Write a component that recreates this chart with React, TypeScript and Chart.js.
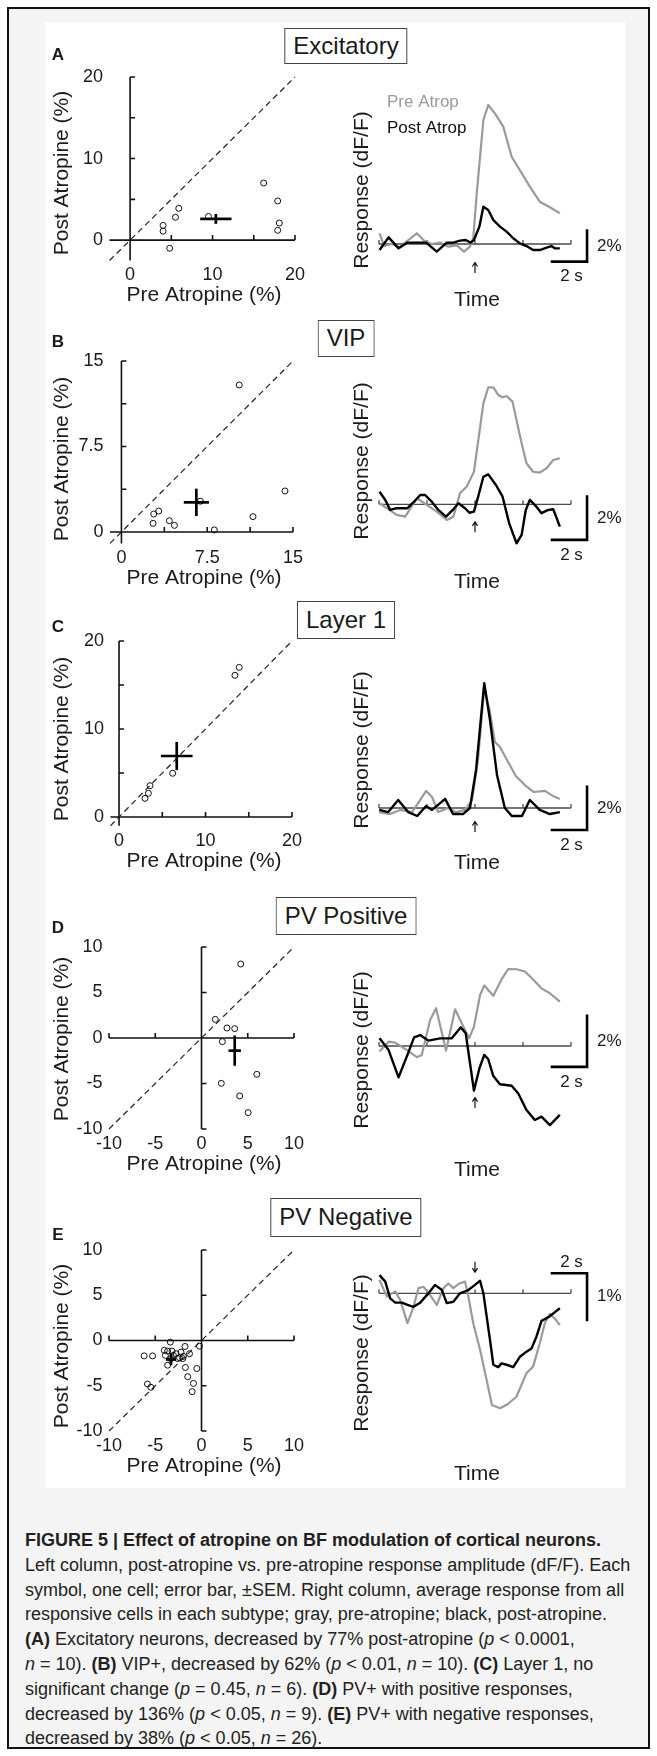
import React, { useEffect, useRef } from 'react';
import { Chart, registerables } from 'chart.js';
Chart.register(...registerables);

const FONT = '"Liberation Sans", Arial, Helvetica, sans-serif';

// ---------------- Scatter data (Pre vs Post atropine, %) ----------------
const A_PRE = [4.0, 4.0, 4.8, 5.5, 5.9, 9.5, 16.2, 17.9, 18.1, 17.9];
const A_POST = [1.8, 1.1, -1.0, 2.8, 3.9, 2.9, 7.0, 4.8, 2.1, 1.2];
const A_MEAN = [10.4, 2.6];
const A_SEM = [1.9, 0.6];

const B_PRE = [2.77, 2.82, 3.26, 4.19, 4.63, 6.9, 8.12, 10.3, 11.5, 14.3];
const B_POST = [0.76, 1.58, 1.84, 0.99, 0.58, 2.7, 0.18, 12.9, 1.35, 3.6];
const B_MEAN = [6.55, 2.6];
const B_SEM = [1.1, 1.2];

const C_PRE = [13.4, 13.9, 6.2, 3.58, 3.39, 3.0];
const C_POST = [16.1, 17.0, 4.97, 3.56, 2.69, 2.12];
const C_MEAN = [6.67, 6.93];
const C_SEM = [1.83, 1.6];

const D_PRE = [4.24, 1.49, 2.75, 3.59, 2.25, 5.98, 2.14, 4.13, 5.04];
const D_POST = [8.13, 2.05, 1.1, 1.03, -0.4, -3.99, -4.98, -6.37, -8.2];
const D_MEAN = [3.59, -1.39];
const D_SEM = [0.67, 1.66];

const E_PRE = [-3.37, -6.2, -5.29, -4.02, -3.66, -3.19, -2.75, -2.39, -1.96, -1.78, -1.3, -0.22, -3.66, -3.3, -1.74, -0.51, -1.49, -0.87, -1.01, -5.84, -5.47, -3.04, -2.57, -2.21, -3.91, -2.03];
const E_POST = [-0.18, -1.7, -1.7, -1.09, -1.17, -1.17, -1.46, -1.89, -1.75, -0.66, -1.46, -0.62, -2.73, -2.0, -2.98, -3.1, -4.0, -4.74, -5.65, -4.81, -5.17, -1.64, -2.0, -1.28, -1.64, -2.0];
const E_MEAN = [-3.3, -2.1];
const E_SEM = [0.55, 0.64];

// axis ticks / labels
const A_TICKS = [5, 10, 15, 20];
const A_LABEL_VALUES = [0, 10, 20];
const A_LABELS = ['0', '10', '20'];
const B_TICKS = [3.75, 7.5, 11.25, 15];
const B_LABEL_VALUES = [0, 7.5, 15];
const B_LABELS = ['0', '7.5', '15'];
const D_TICKS = [-10, -5, 5, 10];
const D_LABEL_VALUES = [-10, -5, 0, 5, 10];
const D_LABELS = ['-10', '-5', '0', '5', '10'];

// ---------------- Trace data (time s, dF/F %) ----------------
const T_RANGE = [-5.5, 5.5];
const BASE_TICKS = [-5.5, -2.75, 0, 2.75, 5.5];

const A_PRE_T = [-5.47, -5.2, -4.76, -4.29, -3.87, -3.33, -2.91, -2.48, -2.0, -1.52, -1.05, -0.63, -0.29, -0.1, 0.1, 0.48, 0.76, 1.14, 1.62, 2.1, 2.57, 3.14, 3.71, 4.29, 4.86];
const A_PRE_V = [0.69, -0.13, 0, -0.22, 0.21, 0.69, 0.21, 0, 0.09, -0.17, -0.09, -0.49, -0.17, 0.37, 3.27, 8.0, 8.97, 8.43, 7.57, 5.63, 4.77, 3.7, 2.73, 2.37, 1.98];
const A_POST_T = [-5.47, -4.95, -4.38, -3.87, -3.33, -2.8, -2.19, -1.62, -1.24, -0.86, -0.53, -0.25, -0.06, 0.25, 0.48, 0.76, 1.05, 1.43, 1.81, 2.19, 2.57, 2.95, 3.33, 3.71, 4.1, 4.38, 4.57, 4.86];
const A_POST_V = [-0.39, 0.43, -0.28, 0.09, 0.09, 0.09, -0.49, 0.09, 0.09, 0.22, 0.26, 0.09, 0.26, 1.12, 2.41, 2.19, 1.55, 1.12, 0.8, 0.37, 0.04, -0.13, -0.39, -0.39, -0.24, -0.13, -0.28, -0.28];

const B_PRE_T = [-5.47, -4.48, -4.0, -3.33, -2.76, -2.19, -1.62, -1.24, -0.86, -0.48, -0.06, 0.19, 0.48, 0.76, 1.05, 1.33, 1.58, 1.81, 2.15, 2.42, 2.67, 2.95, 3.33, 3.71, 4.1, 4.48, 4.86];
const B_PRE_V = [0.05, -0.49, -0.57, 0.28, -0.03, -0.34, -0.72, -0.57, 0.51, 0.81, 1.5, 2.96, 4.65, 5.39, 5.39, 5.04, 4.93, 4.99, 4.73, 3.73, 2.81, 1.89, 1.5, 1.46, 1.66, 2.04, 2.12];
const B_POST_T = [-5.47, -5.14, -4.86, -4.48, -3.87, -3.49, -3.14, -2.86, -2.48, -2.1, -1.66, -1.24, -0.95, -0.57, -0.32, -0.06, 0.19, 0.48, 0.76, 1.2, 1.58, 1.96, 2.38, 2.67, 2.91, 3.14, 3.52, 3.81, 4.19, 4.48, 4.57, 4.86];
const B_POST_V = [0.58, 0.2, -0.26, -0.18, -0.18, 0.12, 0.43, 0.43, 0.12, -0.26, -0.57, -0.23, 0.05, -0.18, -0.39, -0.34, 0.38, 1.27, 1.38, 0.89, 0.35, -0.88, -1.8, -1.41, -0.26, 0.2, -0.11, -0.41, -0.26, -0.23, -0.41, -1.03];

const C_PRE_T = [-5.49, -4.86, -4.29, -3.6, -2.8, -2.46, -2.11, -1.54, -1.09, -0.57, -0.17, 0.17, 0.53, 0.86, 1.14, 1.43, 1.83, 2.34, 2.91, 3.37, 4.0, 4.46, 4.86];
const C_PRE_V = [-0.19, -0.28, -0.09, -0.19, 0.79, 0.51, -0.19, 0, -0.19, -0.09, 0.37, 2.22, 5.56, 4.44, 3.06, 2.82, 2.22, 1.48, 1.02, 0.74, 0.79, 0.56, 0.42];
const C_POST_T = [-5.49, -4.97, -4.4, -3.83, -3.31, -2.8, -2.46, -1.71, -1.26, -0.69, -0.29, 0.06, 0.53, 0.86, 1.26, 1.71, 2.11, 2.69, 3.14, 3.71, 4.29, 4.86];
const C_POST_V = [-0.09, -0.19, 0.37, -0.19, -0.37, 0.09, -0.09, 0.42, -0.28, -0.28, 0, 1.76, 5.78, 4.07, 1.53, 0, -0.37, -0.37, 0.37, -0.09, -0.28, -0.19];

const D_PRE_T = [-5.47, -4.95, -4.57, -3.9, -3.33, -3.05, -2.57, -2.23, -1.66, -1.14, -0.76, -0.34, -0.06, 0.29, 0.53, 1.05, 1.52, 1.9, 2.38, 2.86, 3.33, 3.81, 4.29, 4.86];
const D_PRE_V = [-0.22, 0.17, 0.13, -0.16, -0.44, -0.35, 1.02, 1.48, -0.18, 1.44, 0.89, 0.3, 0.76, 2.0, 2.37, 1.97, 2.61, 3.02, 3.01, 2.92, 2.61, 2.26, 2.07, 1.74];
const D_POST_T = [-5.47, -4.95, -4.38, -3.87, -3.49, -3.14, -2.67, -2.0, -1.33, -0.82, -0.53, -0.34, -0.06, 0.25, 0.53, 0.76, 1.05, 1.43, 2.1, 2.48, 2.95, 3.43, 3.81, 4.29, 4.86];
const D_POST_V = [0.3, -0.16, -1.23, -0.35, 0.34, 0.43, 0.21, 0.3, 0.3, 0.73, 0.5, -0.42, -1.75, -0.88, -0.35, -0.52, -1.18, -1.5, -1.56, -1.86, -2.51, -2.9, -2.77, -3.1, -2.7];

const E_PRE_T = [-5.47, -5.05, -4.57, -4.29, -3.87, -3.52, -3.24, -2.95, -2.57, -2.19, -1.81, -1.52, -1.24, -0.9, -0.57, -0.38, -0.1, 0.29, 0.67, 0.97, 1.43, 1.89, 2.38, 2.95, 3.33, 3.71, 4.0, 4.29, 4.57, 4.86];
const E_PRE_V = [0.29, -0.07, 0.04, -0.14, -0.64, -0.29, 0.11, 0.14, -0.04, -0.25, 0.11, 0.21, 0.11, 0.21, 0.25, -0.07, -0.64, -1.21, -1.86, -2.39, -2.46, -2.37, -2.21, -1.71, -1.57, -1.07, -0.64, -0.44, -0.54, -0.68];
const E_POST_T = [-5.47, -5.14, -4.86, -4.57, -4.19, -3.87, -3.52, -3.14, -2.76, -2.29, -1.9, -1.62, -1.24, -0.86, -0.38, 0, 0.29, 0.48, 0.67, 0.86, 1.05, 1.33, 1.52, 1.81, 2.19, 2.57, 2.95, 3.24, 3.52, 3.81, 4.29, 4.86];
const E_POST_V = [0.39, 0.25, -0.11, -0.2, -0.2, -0.25, -0.29, -0.2, -0.04, 0.18, 0.07, -0.21, -0.18, 0, 0.07, 0.18, 0.27, 0, -0.5, -1.0, -1.53, -1.58, -1.5, -1.53, -1.58, -1.36, -1.25, -1.18, -0.93, -0.59, -0.49, -0.32];

const PANEL_LETTERS = ['A', 'B', 'C', 'D', 'E'];
const PANEL_TITLES = ['Excitatory', 'VIP', 'Layer 1', 'PV Positive', 'PV Negative'];

// ---------------- Layout specs ----------------
type Box = { left: number; top: number; width: number; height: number };
type Area = { left: number; right: number; top: number; bottom: number };

type ScatterSpec = {
  box: Box; area: Area; range: number[]; yRange: number[];
  ticks: number[]; labelValues: number[]; labels: string[];
  pre: number[]; post: number[]; mean: number[]; sem: number[];
  yTitleY: number;
};

const SCATTERS: ScatterSpec[] = [
  { box: { left: 30, top: 20, width: 300, height: 290 }, area: { left: 109.5, right: 295, top: 77, bottom: 260.5 }, range: [-2.5, 20], yRange: [-2.5, 20], ticks: A_TICKS, labelValues: A_LABEL_VALUES, labels: A_LABELS, pre: A_PRE, post: A_POST, mean: A_MEAN, sem: A_SEM, yTitleY: 173 },
  { box: { left: 30, top: 310, width: 300, height: 280 }, area: { left: 110, right: 293, top: 361, bottom: 543.4 }, range: [-1, 15], yRange: [-1, 15], ticks: B_TICKS, labelValues: B_LABEL_VALUES, labels: B_LABELS, pre: B_PRE, post: B_POST, mean: B_MEAN, sem: B_SEM, yTitleY: 459 },
  { box: { left: 30, top: 590, width: 300, height: 285 }, area: { left: 110.4, right: 292, top: 641, bottom: 825.8 }, range: [-1, 20], yRange: [-1, 20], ticks: A_TICKS, labelValues: A_LABEL_VALUES, labels: A_LABELS, pre: C_PRE, post: C_POST, mean: C_MEAN, sem: C_SEM, yTitleY: 739 },
  { box: { left: 30, top: 875, width: 300, height: 310 }, area: { left: 109, right: 294, top: 947, bottom: 1129 }, range: [-10, 10], yRange: [-10, 10], ticks: D_TICKS, labelValues: D_LABEL_VALUES, labels: D_LABELS, pre: D_PRE, post: D_POST, mean: D_MEAN, sem: D_SEM, yTitleY: 1039 },
  { box: { left: 30, top: 1185, width: 300, height: 305 }, area: { left: 109, right: 294, top: 1250, bottom: 1431 }, range: [-10, 10], yRange: [-10, 10], ticks: D_TICKS, labelValues: D_LABEL_VALUES, labels: D_LABELS, pre: E_PRE, post: E_POST, mean: E_MEAN, sem: E_SEM, yTitleY: 1346 },
];

type TraceSpec = {
  box: Box; area: Area; vRange: number[];
  preT: number[]; preV: number[]; postT: number[]; postV: number[];
  arrowV: number; arrowDir: 'up' | 'down';
  barCorner: number; barOther: number; barLabel: string; barTop: boolean;
  yTitleY: number; timeY: number; legend: boolean;
};

const TRACE_AREA_X = { left: 379, right: 571 };
const TRACES: TraceSpec[] = [
  { box: { left: 330, top: 70, width: 300, height: 240 }, area: { ...TRACE_AREA_X, top: 89, bottom: 275 }, vRange: [-2, 10], preT: A_PRE_T, preV: A_PRE_V, postT: A_POST_T, postV: A_POST_V, arrowV: -1.55, arrowDir: 'up', barCorner: -1.14, barOther: 0.86, barLabel: '2%', barTop: false, yTitleY: 190, timeY: 300, legend: true },
  { box: { left: 330, top: 340, width: 300, height: 255 }, area: { ...TRACE_AREA_X, top: 352.4, bottom: 558.55 }, vRange: [-2.5, 7], preT: B_PRE_T, preV: B_PRE_V, postT: B_POST_T, postV: B_POST_V, arrowV: -1.06, arrowDir: 'up', barCorner: -1.64, barOther: 0.36, barLabel: '2%', barTop: false, yTitleY: 461, timeY: 582, legend: false },
  { box: { left: 330, top: 640, width: 300, height: 235 }, area: { ...TRACE_AREA_X, top: 656.8, bottom: 862 }, vRange: [-2.5, 7], preT: C_PRE_T, preV: C_PRE_V, postT: C_POST_T, postV: C_POST_V, arrowV: -0.88, arrowDir: 'up', barCorner: -1.02, barOther: 0.98, barLabel: '2%', barTop: false, yTitleY: 750, timeY: 863, legend: false },
  { box: { left: 330, top: 936, width: 300, height: 249 }, area: { ...TRACE_AREA_X, top: 944, bottom: 1148 }, vRange: [-4, 4], preT: D_PRE_T, preV: D_PRE_V, postT: D_POST_T, postV: D_POST_V, arrowV: -2.24, arrowDir: 'up', barCorner: -0.82, barOther: 1.18, barLabel: '2%', barTop: false, yTitleY: 1050, timeY: 1170, legend: false },
  { box: { left: 330, top: 1238, width: 300, height: 252 }, area: { ...TRACE_AREA_X, top: 1246.6, bottom: 1433.4 }, vRange: [-3, 1], preT: E_PRE_T, preV: E_PRE_V, postT: E_POST_T, postV: E_POST_V, arrowV: 0.57, arrowDir: 'down', barCorner: 0.43, barOther: -0.57, barLabel: '1%', barTop: true, yTitleY: 1353, timeY: 1474, legend: false },
];

const TITLE_BOXES = [
  { top: 28, height: 36 },
  { top: 320, height: 37 },
  { top: 601, height: 38 },
  { top: 897, height: 38 },
  { top: 1198, height: 39 },
];
const LETTER_Y = [55, 342, 627, 928, 1235];

const CAPTION_TOP = 1540;
const CAPTION_STEP = 24.8;

// ---------------- helpers ----------------
function padOf(box: Box, area: Area) {
  return {
    left: area.left - box.left,
    top: area.top - box.top,
    right: box.left + box.width - area.right,
    bottom: box.top + box.height - area.bottom,
  };
}

function baseOptions(box: Box, area: Area, xr: number[], yr: number[]): any {
  return {
    animation: false,
    responsive: false,
    maintainAspectRatio: false,
    events: [],
    layout: { padding: padOf(box, area) },
    plugins: { legend: { display: false }, tooltip: { enabled: false } },
    scales: {
      x: { type: 'linear', display: false, min: xr[0], max: xr[1] },
      y: { type: 'linear', display: false, min: yr[0], max: yr[1] },
    },
  };
}

function makeScatter(canvas: HTMLCanvasElement, s: ScatterSpec) {
  const pts = s.pre.map((x, i) => ({ x, y: s.post[i] }));
  const [mx, my] = s.mean;
  const [sx, sy] = s.sem;
  const deco = {
    id: 'scatterDeco',
    beforeDatasetsDraw(chart: any) {
      const ctx = chart.ctx;
      const xs = chart.scales.x, ys = chart.scales.y;
      const x0 = xs.getPixelForValue(0), y0 = ys.getPixelForValue(0);
      ctx.save();
      ctx.strokeStyle = '#111';
      ctx.lineWidth = 1.6;
      ctx.beginPath();
      ctx.moveTo(xs.getPixelForValue(s.range[0]), y0);
      ctx.lineTo(xs.getPixelForValue(s.range[1]), y0);
      ctx.moveTo(x0, ys.getPixelForValue(s.yRange[0]));
      ctx.lineTo(x0, ys.getPixelForValue(s.yRange[1]));
      for (const t of s.ticks) {
        const px = xs.getPixelForValue(t);
        ctx.moveTo(px, y0); ctx.lineTo(px, y0 - 5);
        const py = ys.getPixelForValue(t);
        ctx.moveTo(x0, py); ctx.lineTo(x0 + 5, py);
      }
      ctx.stroke();
      ctx.restore();
    },
    afterDraw(chart: any) {
      const ctx = chart.ctx;
      const xs = chart.scales.x, ys = chart.scales.y;
      const ca = chart.chartArea;
      ctx.save();
      ctx.fillStyle = '#1a1a1a';
      ctx.font = `18px ${FONT}`;
      ctx.textBaseline = 'middle';
      ctx.textAlign = 'right';
      s.labelValues.forEach((v, i) => ctx.fillText(s.labels[i], ca.left - 6.5, ys.getPixelForValue(v)));
      ctx.textAlign = 'center';
      s.labelValues.forEach((v, i) => ctx.fillText(s.labels[i], xs.getPixelForValue(v), ca.bottom + 15));
      ctx.font = `21px ${FONT}`;
      ctx.fillText('Pre Atropine (%)', 204 - s.box.left, ca.bottom + 35);
      ctx.translate(62 - s.box.left, s.yTitleY - s.box.top);
      ctx.rotate(-Math.PI / 2);
      ctx.fillText('Post Atropine (%)', 0, 0);
      ctx.restore();
    },
  };
  return new Chart(canvas, {
    type: 'scatter',
    data: {
      datasets: [
        { data: [{ x: mx - sx, y: my }, { x: mx + sx, y: my }], showLine: true, borderColor: '#000', borderWidth: 2.7, pointRadius: 0, borderCapStyle: 'butt' },
        { data: [{ x: mx, y: my - sy }, { x: mx, y: my + sy }], showLine: true, borderColor: '#000', borderWidth: 2.7, pointRadius: 0, borderCapStyle: 'butt' },
        { data: pts, showLine: false, pointRadius: 3, pointBorderWidth: 1, pointBorderColor: '#111', pointBackgroundColor: 'rgba(255,255,255,0)', borderColor: '#111', backgroundColor: 'rgba(0,0,0,0)' },
        { data: [{ x: s.range[0], y: s.range[0] }, { x: s.range[1], y: s.range[1] }], showLine: true, borderColor: '#222', borderWidth: 1.2, borderDash: [6, 4], pointRadius: 0 },
      ] as any,
    },
    options: { ...baseOptions(s.box, s.area, s.range, s.yRange), clip: false } as any,
    plugins: [deco],
  });
}

function makeTrace(canvas: HTMLCanvasElement, s: TraceSpec) {
  const pre = s.preT.map((t, i) => ({ x: t, y: s.preV[i] }));
  const post = s.postT.map((t, i) => ({ x: t, y: s.postV[i] }));
  const deco = {
    id: 'traceDeco',
    beforeDatasetsDraw(chart: any) {
      const ctx = chart.ctx;
      const xs = chart.scales.x, ys = chart.scales.y;
      const y0 = ys.getPixelForValue(0);
      ctx.save();
      ctx.strokeStyle = '#4a4a4a';
      ctx.lineWidth = 1.3;
      ctx.beginPath();
      ctx.moveTo(xs.getPixelForValue(T_RANGE[0]), y0);
      ctx.lineTo(xs.getPixelForValue(T_RANGE[1]), y0);
      for (const t of BASE_TICKS) {
        const px = xs.getPixelForValue(t);
        ctx.moveTo(px, y0); ctx.lineTo(px, y0 - 4);
      }
      ctx.stroke();
      ctx.restore();
    },
    afterDraw(chart: any) {
      const ctx = chart.ctx;
      const xs = chart.scales.x, ys = chart.scales.y;
      ctx.save();
      // stimulus arrow
      const ax = xs.getPixelForValue(0), ay = ys.getPixelForValue(s.arrowV);
      ctx.strokeStyle = '#111';
      ctx.lineWidth = 1.2;
      ctx.beginPath();
      ctx.moveTo(ax, ay - 5); ctx.lineTo(ax, ay + 5);
      if (s.arrowDir === 'up') {
        ctx.moveTo(ax - 2.6, ay - 1.5); ctx.lineTo(ax, ay - 5.5); ctx.lineTo(ax + 2.6, ay - 1.5);
      } else {
        ctx.moveTo(ax - 2.6, ay + 1.5); ctx.lineTo(ax, ay + 5.5); ctx.lineTo(ax + 2.6, ay + 1.5);
      }
      ctx.stroke();
      // scale bars: 2 s horizontal, amplitude vertical
      const hx0 = xs.getPixelForValue(4.41), hx1 = xs.getPixelForValue(6.42);
      const cy = ys.getPixelForValue(s.barCorner), oy = ys.getPixelForValue(s.barOther);
      ctx.strokeStyle = '#000';
      ctx.lineWidth = 2.6;
      ctx.lineCap = 'square';
      ctx.beginPath();
      ctx.moveTo(hx0, cy); ctx.lineTo(hx1, cy); ctx.lineTo(hx1, oy);
      ctx.stroke();
      ctx.fillStyle = '#1a1a1a';
      ctx.font = `17px ${FONT}`;
      ctx.textBaseline = 'middle';
      ctx.textAlign = 'left';
      ctx.fillText(s.barLabel, hx1 + 10, (cy + oy) / 2);
      ctx.textAlign = 'center';
      ctx.fillText('2 s', (hx0 + hx1) / 2 + 2, s.barTop ? cy - 11 : cy + 15);
      // titles
      ctx.font = `21px ${FONT}`;
      ctx.fillText('Time', 477 - s.box.left, s.timeY - s.box.top);
      if (s.legend) {
        ctx.font = `17px ${FONT}`;
        ctx.textAlign = 'left';
        ctx.fillStyle = '#9a9a9a';
        ctx.fillText('Pre Atrop', 387 - s.box.left, 102 - s.box.top);
        ctx.fillStyle = '#111';
        ctx.fillText('Post Atrop', 387 - s.box.left, 128 - s.box.top);
      }
      ctx.fillStyle = '#1a1a1a';
      ctx.font = `21px ${FONT}`;
      ctx.textAlign = 'center';
      ctx.translate(362 - s.box.left, s.yTitleY - s.box.top);
      ctx.rotate(-Math.PI / 2);
      ctx.fillText('Response (dF/F)', 0, 0);
      ctx.restore();
    },
  };
  return new Chart(canvas, {
    type: 'scatter',
    data: {
      datasets: [
        { data: post, showLine: true, borderColor: '#000', borderWidth: 2.4, pointRadius: 0, tension: 0, borderJoinStyle: 'round' },
        { data: pre, showLine: true, borderColor: '#9a9a9a', borderWidth: 2.2, pointRadius: 0, tension: 0, borderJoinStyle: 'round' },
      ] as any,
    },
    options: { ...baseOptions(s.box, s.area, T_RANGE, s.vRange), clip: false } as any,
    plugins: [deco],
  });
}

function ChartCanvas({ box, make }: { box: Box; make: (c: HTMLCanvasElement) => Chart }) {
  const ref = useRef<HTMLCanvasElement>(null);
  useEffect(() => {
    const chart = make(ref.current as HTMLCanvasElement);
    return () => chart.destroy();
  }, []);
  return (
    <canvas
      ref={ref}
      width={box.width}
      height={box.height}
      style={{ position: 'absolute', left: box.left, top: box.top, width: box.width, height: box.height }}
    />
  );
}

const CAPTION_LINES: React.ReactNode[] = [
  <b>FIGURE 5 | Effect of atropine on BF modulation of cortical neurons.</b>,
  <>Left column, post-atropine vs. pre-atropine response amplitude (dF/F). Each</>,
  <>symbol, one cell; error bar, ±SEM. Right column, average response from all</>,
  <>responsive cells in each subtype; gray, pre-atropine; black, post-atropine.</>,
  <><b>(A)</b> Excitatory neurons, decreased by 77% post-atropine (<i>p</i> &lt; 0.0001,</>,
  <><i>n</i> = 10). <b>(B)</b> VIP+, decreased by 62% (<i>p</i> &lt; 0.01, <i>n</i> = 10). <b>(C)</b> Layer 1, no</>,
  <>significant change (<i>p</i> = 0.45, <i>n</i> = 6). <b>(D)</b> PV+ with positive responses,</>,
  <>decreased by 136% (<i>p</i> &lt; 0.05, <i>n</i> = 9). <b>(E)</b> PV+ with negative responses,</>,
  <>decreased by 38% (<i>p</i> &lt; 0.05, <i>n</i> = 26).</>,
];

export default function App() {
  return (
    <div style={{ position: 'absolute', left: 0, top: 0, width: 657, height: 1756, background: '#fff', fontFamily: FONT, color: '#1a1a1a' }}>
      {/* frame */}
      <div style={{ position: 'absolute', left: 7, top: 7, width: 639, height: 1738, border: '2px solid #111', background: '#f4f4f4' }} />
      <div style={{ position: 'absolute', left: 45, top: 22, width: 580, height: 1466, background: '#fff' }} />
      {SCATTERS.map((s, i) => (
        <ChartCanvas key={'s' + i} box={s.box} make={(c) => makeScatter(c, s)} />
      ))}
      {TRACES.map((s, i) => (
        <ChartCanvas key={'t' + i} box={s.box} make={(c) => makeTrace(c, s)} />
      ))}
      {PANEL_LETTERS.map((l, i) => (
        <div key={'l' + i} style={{ position: 'absolute', left: 58, top: LETTER_Y[i], transform: 'translate(-50%, -50%)', fontWeight: 'bold', fontSize: 17, lineHeight: '20px' }}>{l}</div>
      ))}
      {PANEL_TITLES.map((t, i) => (
        <div key={'b' + i} style={{ position: 'absolute', left: 346, top: TITLE_BOXES[i].top, height: TITLE_BOXES[i].height, boxSizing: 'border-box', transform: 'translateX(-50%)', border: '1.5px solid #444', background: '#fff', fontSize: 24, lineHeight: (TITLE_BOXES[i].height - 3) + 'px', padding: '0 8px', whiteSpace: 'nowrap' }}>{t}</div>
      ))}
      {CAPTION_LINES.map((ln, i) => (
        <div key={'c' + i} style={{ position: 'absolute', left: 25, top: CAPTION_TOP + i * CAPTION_STEP - 12, height: 24, lineHeight: '24px', fontSize: 18, whiteSpace: 'nowrap', color: '#231f20' }}>{ln}</div>
      ))}
    </div>
  );
}
